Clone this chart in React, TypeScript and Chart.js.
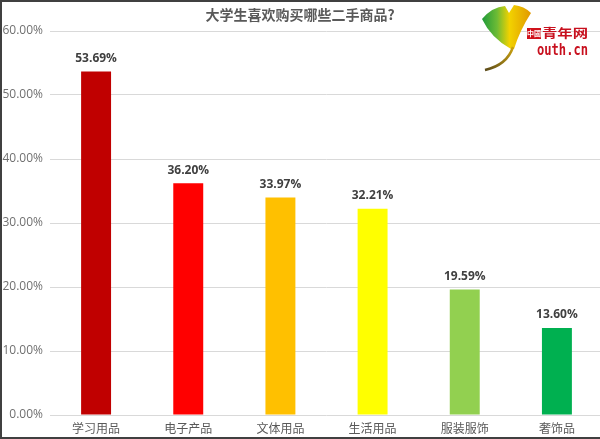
import React, { useEffect, useRef } from "react";
import { Chart, registerables } from "chart.js";

Chart.register(...registerables);

const chartTitle = "大学生喜欢购买哪些二手商品?";
const categories = ["学习用品", "电子产品", "文体用品", "生活用品", "服装服饰", "奢饰品"];
const values = [53.69, 36.2, 33.97, 32.21, 19.59, 13.6];
const barColors = ["#C00000", "#FF0000", "#FFC000", "#FFFF00", "#92D050", "#00B050"];
const yTickValues = [0, 10, 20, 30, 40, 50, 60];

const CJK = '"Noto Sans CJK SC", "Noto Sans", sans-serif';
const LATIN = '"Open Sans", "Noto Sans", sans-serif';

function drawLogo(ctx: CanvasRenderingContext2D) {
  ctx.save();
  // ginkgo leaf
  const g = ctx.createLinearGradient(482, 0, 532, 0);
  g.addColorStop(0, "#1f9a3a");
  g.addColorStop(0.3, "#6dbb35");
  g.addColorStop(0.55, "#f2d200");
  g.addColorStop(1, "#e09600");
  ctx.beginPath();
  ctx.moveTo(511, 49);
  ctx.quadraticCurveTo(491, 38, 482, 19);
  ctx.quadraticCurveTo(492, 7, 505, 6);
  ctx.lineTo(509, 13);
  ctx.lineTo(514, 5);
  ctx.quadraticCurveTo(524, 6, 531, 13);
  ctx.quadraticCurveTo(520, 30, 514, 49);
  ctx.closePath();
  ctx.fillStyle = g;
  ctx.fill();
  // stem forming the "Y"
  const sg = ctx.createLinearGradient(485, 70, 513, 48);
  sg.addColorStop(0, "#5a4a1a");
  sg.addColorStop(1, "#c8a010");
  ctx.beginPath();
  ctx.moveTo(513, 47);
  ctx.quadraticCurveTo(507, 65, 485, 70);
  ctx.strokeStyle = sg;
  ctx.lineWidth = 2.5;
  ctx.stroke();
  // red box 中國
  ctx.fillStyle = "#d0121b";
  ctx.fillRect(527, 28, 14, 11);
  ctx.fillStyle = "#ffffff";
  ctx.font = `bold 7px ${CJK}`;
  ctx.textAlign = "center";
  ctx.textBaseline = "middle";
  ctx.fillText("中國", 534, 33.5);
  // 青年网
  ctx.fillStyle = "#c8101e";
  ctx.font = `bold 12px ${CJK}`;
  ctx.textAlign = "left";
  ctx.save();
  ctx.translate(542, 33.5);
  const w1 = ctx.measureText("青年网").width;
  ctx.scale(46 / w1, 1);
  ctx.fillText("青年网", 0, 0);
  ctx.restore();
  // outh.cn
  ctx.font = `bold 16px "DejaVu Sans Mono", monospace`;
  ctx.textBaseline = "alphabetic";
  ctx.save();
  ctx.translate(537, 55);
  const w2 = ctx.measureText("outh.cn").width;
  ctx.scale(51 / w2, 1);
  ctx.fillText("outh.cn", 0, 0);
  ctx.restore();
  ctx.restore();
}

const decorPlugin = {
  id: "decor",
  beforeDraw(chart: any) {
    const ctx = chart.ctx as CanvasRenderingContext2D;
    ctx.save();
    ctx.fillStyle = "#ffffff";
    ctx.fillRect(0, 0, chart.width, chart.height);
    ctx.restore();
  },
  afterDraw(chart: any) {
    const ctx = chart.ctx as CanvasRenderingContext2D;
    ctx.save();
    ctx.fillStyle = "#595959";
    ctx.font = `bold 14px ${CJK}`;
    ctx.textAlign = "center";
    ctx.textBaseline = "middle";
    ctx.fillText(chartTitle, 300, 15);
    ctx.restore();
    drawLogo(ctx);
  },
};

const labelPlugin = {
  id: "barLabels",
  afterDatasetsDraw(chart: any) {
    const ctx = chart.ctx as CanvasRenderingContext2D;
    const meta = chart.getDatasetMeta(0);
    ctx.save();
    ctx.fillStyle = "#404040";
    ctx.font = `bold 12px ${LATIN}`;
    ctx.textAlign = "center";
    ctx.textBaseline = "middle";
    meta.data.forEach((el: any, i: number) => {
      ctx.fillText(values[i].toFixed(2) + "%", el.x, el.y - 13);
    });
    ctx.restore();
  },
};

export default function App() {
  const ref = useRef<HTMLCanvasElement | null>(null);
  useEffect(() => {
    if (!ref.current) return;
    const chart = new Chart(ref.current, {
      type: "bar",
      data: {
        labels: categories,
        datasets: [
          {
            data: values,
            backgroundColor: barColors,
            borderWidth: 0,
            categoryPercentage: 1,
            barPercentage: 0.325,
          },
        ],
      },
      options: {
        responsive: false,
        animation: false,
        layout: { padding: { top: 31, left: 0, right: 0, bottom: 0 } },
        plugins: {
          legend: { display: false },
          title: { display: false },
          tooltip: { enabled: false },
        },
        scales: {
          x: {
            grid: { display: false, drawTicks: false },
            border: { display: false },
            ticks: {
              color: "#595959",
              font: { size: 12, family: CJK },
              padding: 6,
              maxRotation: 0,
            },
            afterFit: (s: any) => {
              s.height = 24;
            },
          },
          y: {
            min: 0,
            max: 60,
            grid: { color: "#D9D9D9", drawTicks: false, lineWidth: 1 },
            border: { display: false },
            ticks: {
              color: "#707070",
              font: { size: 12, family: LATIN },
              padding: 7,
              callback: (v: any) => Number(v).toFixed(2) + "%",
            },
            afterBuildTicks: (s: any) => {
              s.ticks = yTickValues.map((v) => ({ value: v }));
            },
            afterFit: (s: any) => {
              s.width = 50;
            },
          },
        },
      },
      plugins: [decorPlugin, labelPlugin],
    });
    return () => chart.destroy();
  }, []);

  return (
    <div
      style={{
        position: "absolute",
        left: 0,
        top: 0,
        width: 600,
        height: 439,
        overflow: "hidden",
        background: "#fff",
      }}
    >
      <canvas ref={ref} width={603} height={439} style={{ display: "block" }} />
      <div
        style={{
          position: "absolute",
          left: 0,
          top: 0,
          width: 600,
          height: 439,
          boxSizing: "border-box",
          borderLeft: "2px solid #404040",
          borderTop: "2px solid #404040",
          borderBottom: "2px solid #404040",
          pointerEvents: "none",
        }}
      />
    </div>
  );
}
